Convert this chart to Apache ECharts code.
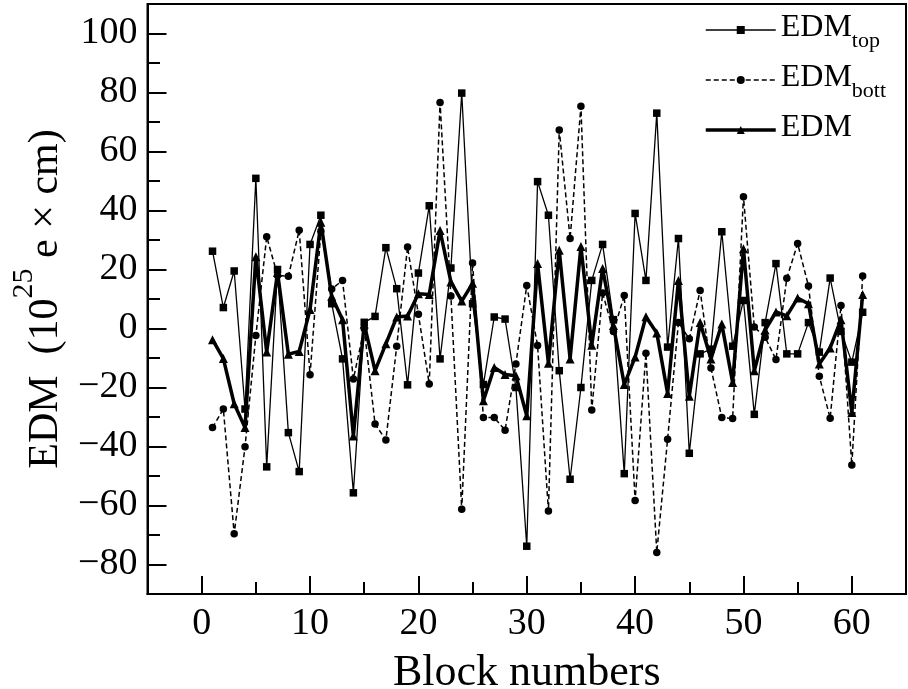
<!DOCTYPE html>
<html>
<head>
<meta charset="utf-8">
<script src="https://cdn.jsdelivr.net/npm/echarts@6/dist/echarts.min.js"></script>
<style>
html,body{margin:0;padding:0;background:#fff;}
#chart{width:908px;height:689px;}
</style>
</head>
<body>
<div id="chart"></div>
<script>
const blocks = [1,2,3,4,5,6,7,8,9,10,11,12,13,14,15,16,17,18,19,20,21,22,23,24,25,26,27,28,29,30,31,32,33,34,35,36,37,38,39,40,41,42,43,44,45,46,47,48,49,50,51,52,53,54,55,56,57,58,59,60,61];
const edmTop = [26.2,7.1,19.5,-27.3,50.9,-46.9,20,-35.3,-48.5,28.5,38.4,8.4,-10.3,-55.7,2.1,4.1,27.4,13.5,-19.1,18.8,41.6,-10.3,20.5,79.8,8.4,-19,3.9,3.2,-20,-73.8,49.8,38.4,-14.3,-51.1,-20,16.3,28.5,3,-49.2,39,16.3,73,-6.3,30.5,-42.3,-8.6,-7,32.8,-6,9.5,-29.1,2,22,-8.6,-8.6,2,-8,17.1,-1,-11.4,5.5];
const edmBott = [-33.6,-27.3,-69.6,-40.1,-2.4,31.1,18,17.7,33.3,-15.7,33,13.4,16.3,-17.1,0,-32.4,-37.8,-6,27.6,4.8,-18.8,76.6,11,-61.3,22.2,-30.2,-30.2,-34.5,-12,14.6,-5.8,-61.9,67.3,30.5,75.3,-27.6,12,-1,11.2,-58.3,-8.4,-75.9,-37.5,2,-3.5,12.9,-13.4,-30.2,-30.5,44.7,0.5,-3,-10.5,17,28.8,14.4,-16.2,-30.4,7.8,-46.3,17.8];
const edmMean = [-3.8,-10.2,-25.5,-33.6,24.3,-8,19,-8.7,-7.8,6.4,36,10.9,3,-36.4,1.5,-14.3,-5.2,3.9,4.2,11.8,11.5,33.2,15.8,9.3,15.3,-24.5,-13.2,-15.6,-16,-29.6,22,-11.8,26.5,-10.3,27.8,-5.7,20.3,1,-19,-9.7,4,-1.5,-22,16.3,-23,2,-10.3,1.5,-18.3,27,-14.3,-0.5,5.6,4.3,10.3,8.4,-12,-6.6,3,-28.5,11.5];
const xLabels = [0,10,20,30,40,50,60];
const xMinor = [5,15,25,35,45,55];
const yLabels = [-80,-60,-40,-20,0,20,40,60,80,100];
const yMinor = [-70,-50,-30,-10,10,30,50,70,90];
const seriesNames = ['EDM_top','EDM_bott','EDM'];

const FONT = 'Liberation Serif';
const pair = arr => blocks.map((b,i)=>[b, arr[i]]);
const fmtNum = v => v < 0 ? '\u2212' + Math.abs(v) : String(v);

const chart = echarts.init(document.getElementById('chart'), null, {renderer:'canvas'});
const axisLineStyle = {color:'#000', width:2};
chart.setOption({
  animation:false,
  backgroundColor:'#fff',
  grid:{left:147.5, top:4, right:2, bottom:95, show:true, borderColor:'#000', borderWidth:2,
        containLabel:false, outerBoundsMode:'none'},
  legend:{
    orient:'vertical', left:704, top:12, padding:0, itemWidth:70, itemHeight:10, itemGap:10,
    data:[
      {name:seriesNames[0], lineStyle:{width:1.3, color:'#000'}},
      {name:seriesNames[1], lineStyle:{width:1.5, color:'#000', type:[5,3]}},
      {name:seriesNames[2], lineStyle:{width:3.5, color:'#000'}}
    ],
    formatter: n => n==='EDM_top' ? '{m|EDM}{s|top}' : (n==='EDM_bott' ? '{m|EDM}{s|bott}' : '{m|EDM}'),
    textStyle:{
      color:'#000', fontFamily:FONT,
      rich:{
        m:{fontSize:32, fontFamily:FONT, color:'#000', lineHeight:36, verticalAlign:'top'},
        s:{fontSize:22, fontFamily:FONT, color:'#000', lineHeight:20, verticalAlign:'top', padding:[18,0,0,0]}
      }
    }
  },
  xAxis:[
    {type:'value', min:-5, max:65, interval:5, position:'bottom',
     name:'Block numbers', nameLocation:'middle', nameGap:57,
     nameTextStyle:{fontFamily:FONT, fontSize:44, color:'#000'},
     axisLine:{show:true, onZero:false, lineStyle:axisLineStyle},
     axisTick:{show:true, inside:true, length:18, lineStyle:{color:'#000', width:2}, customValues:xLabels},
     axisLabel:{show:true, customValues:xLabels, fontFamily:FONT, fontSize:38, color:'#000', margin:11},
     splitLine:{show:false}},
    {type:'value', min:-5, max:65, interval:5, position:'bottom',
     axisLine:{show:false, onZero:false},
     axisTick:{show:true, inside:true, length:12, lineStyle:{color:'#000', width:2}, customValues:xMinor},
     axisLabel:{show:false},
     splitLine:{show:false}}
  ],
  yAxis:[
    {type:'value', min:-90, max:110, interval:10, position:'left',
     name:'{a|EDM  (10}{s|25}{a| e \u00d7 cm)}', nameLocation:'middle', nameGap:90, nameRotate:90,
     nameTextStyle:{fontFamily:FONT, color:'#000',
       rich:{a:{fontSize:42, fontFamily:FONT, color:'#000', lineHeight:42, verticalAlign:'top', padding:[16,0,0,0]},
             s:{fontSize:30, fontFamily:FONT, color:'#000', lineHeight:30, verticalAlign:'top'}}},
     axisLine:{show:true, onZero:false, lineStyle:axisLineStyle},
     axisTick:{show:true, inside:true, length:19, lineStyle:{color:'#000', width:2}, customValues:yLabels},
     axisLabel:{show:true, customValues:yLabels, formatter:fmtNum, fontFamily:FONT, fontSize:38, color:'#000', margin:10},
     splitLine:{show:false}},
    {type:'value', min:-90, max:110, interval:10, position:'left',
     axisLine:{show:false, onZero:false},
     axisTick:{show:true, inside:true, length:12.5, lineStyle:{color:'#000', width:2}, customValues:yMinor},
     axisLabel:{show:false},
     splitLine:{show:false}}
  ],
  series:[
    {name:seriesNames[0], type:'line', xAxisIndex:0, yAxisIndex:0, data:pair(edmTop),
     symbol:'rect', symbolSize:7.5, showAllSymbol:true,
     lineStyle:{color:'#000', width:1.3}, itemStyle:{color:'#000'}, z:2},
    {name:seriesNames[1], type:'line', xAxisIndex:0, yAxisIndex:0, data:pair(edmBott),
     symbol:'circle', symbolSize:7.5, showAllSymbol:true,
     lineStyle:{color:'#000', width:1.5, type:[5,3]}, itemStyle:{color:'#000'}, z:3},
    {name:seriesNames[2], type:'line', xAxisIndex:0, yAxisIndex:0, data:pair(edmMean),
     symbol:'triangle', symbolSize:9, showAllSymbol:true,
     lineStyle:{color:'#000', width:3.5}, itemStyle:{color:'#000'}, z:4}
  ]
});
</script>
</body>
</html>
